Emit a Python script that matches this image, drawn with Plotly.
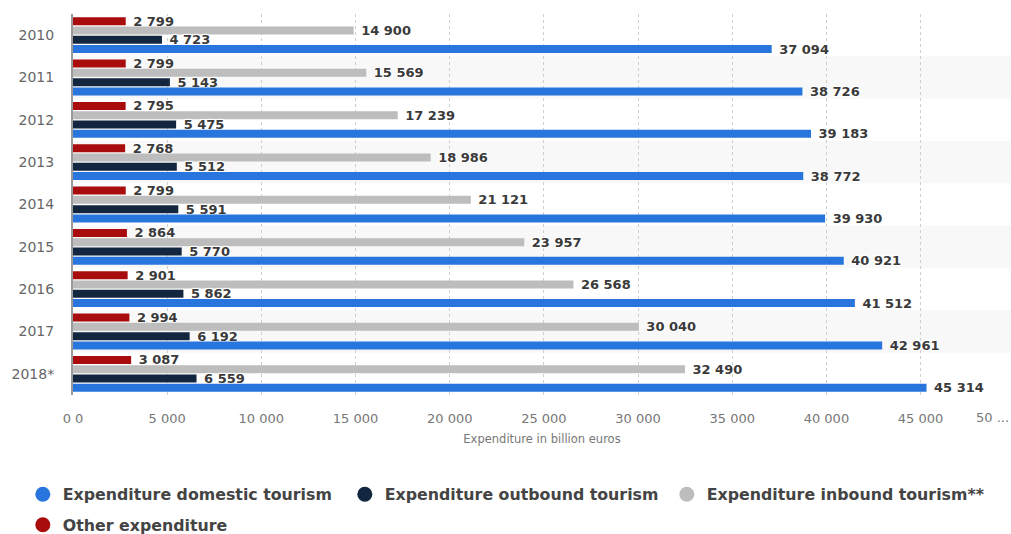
import plotly.graph_objects as go

years = ["2010", "2011", "2012", "2013", "2014", "2015", "2016", "2017", "2018*"]
other = [2799, 2799, 2795, 2768, 2799, 2864, 2901, 2994, 3087]
inbound = [14900, 15569, 17239, 18986, 21121, 23957, 26568, 30040, 32490]
outbound = [4723, 5143, 5475, 5512, 5591, 5770, 5862, 6192, 6559]
domestic = [37094, 38726, 39183, 38772, 39930, 40921, 41512, 42961, 45314]

tick_vals = [0, 5000, 10000, 15000, 20000, 25000, 30000, 35000, 40000, 45000]
tick_text = ["0 0", "5 000", "10 000", "15 000", "20 000", "25 000", "30 000",
             "35 000", "40 000", "45 000"]

# drawn top-to-bottom inside each year group (y axis is reversed)
series = [
    ("Other expenditure", other, "#a80c0c", 4, "legend2"),
    ("Expenditure inbound tourism**", inbound, "#bdbdbd", 3, "legend"),
    ("Expenditure outbound tourism", outbound, "#12263f", 2, "legend"),
    ("Expenditure domestic tourism", domestic, "#2876dd", 1, "legend"),
]

fig = go.Figure()
label_font = dict(family="DejaVu Sans", size=13, color="#3a3a3a", weight="bold",
                  shadow="1px 1px 1px #fff, -1px -1px 1px #fff, 1px -1px 1px #fff, -1px 1px 1px #fff")

for name, vals, color, rank, leg in series:
    fig.add_trace(go.Bar(
        y=years, x=vals, orientation="h", name=name,
        marker=dict(color=color, line=dict(width=0)),
        texttemplate="\u00a0%{x:,}", textposition="outside", cliponaxis=False,
        constraintext="none", textfont=label_font,
        showlegend=False, hoverinfo="x+name",
    ))

# round legend markers
for name, vals, color, rank, leg in series:
    fig.add_trace(go.Scatter(
        x=[None], y=[None], mode="markers", name=name, legendrank=rank,
        legend=leg, marker=dict(symbol="circle", size=15, color=color),
    ))

# alternating row stripes
for i, yr in enumerate(years):
    if i % 2 == 1:
        fig.add_shape(type="rect", xref="paper", yref="y", x0=0, x1=1,
                      y0=i - 0.5, y1=i + 0.5, fillcolor="#f8f8f8",
                      line=dict(width=0), layer="below")

fig.add_annotation(x=1, xref="paper", xanchor="right", y=0, yref="paper",
                   yanchor="middle", yshift=-22, text="50 ...", showarrow=False,
                   font=dict(family="DejaVu Sans", size=13, color="#777"))

legend_font = dict(family="DejaVu Sans", size=15.8, color="#444", weight="bold")

fig.update_layout(
    width=1011, height=534,
    margin=dict(l=73, r=0, t=14, b=139, autoexpand=False),
    paper_bgcolor="white", plot_bgcolor="white",
    barmode="group", bargap=0.123, bargroupgap=0.14,
    separators=". ",
    xaxis=dict(
        range=[0, 49800], tickvals=tick_vals, ticktext=tick_text,
        showgrid=True, gridcolor="#cfcfcf", griddash="dot", gridwidth=1,
        zeroline=False, showline=False, ticks="", ticklabelstandoff=14,
        automargin=False,
        tickfont=dict(family="DejaVu Sans", size=13, color="#777"),
        title=dict(text="Expenditure in billion euros", standoff=9,
                   font=dict(family="DejaVu Sans", size=11.5, color="#777")),
    ),
    yaxis=dict(
        type="category", autorange="reversed", showgrid=False, zeroline=False,
        showline=True, linecolor="#999", linewidth=2, ticks="",
        ticklabelstandoff=14, automargin=False,
        tickfont=dict(family="DejaVu Sans", size=14, color="#666"),
    ),
    legend=dict(
        orientation="h", x=-0.0535, xanchor="left", y=-0.2165, yanchor="top",
        font=legend_font, itemwidth=30, entrywidth=277,
    ),
    legend2=dict(
        orientation="h", x=-0.0535, xanchor="left", y=-0.2966, yanchor="top",
        font=legend_font, itemwidth=30,
    ),
)

fig.write_html("out.html")
